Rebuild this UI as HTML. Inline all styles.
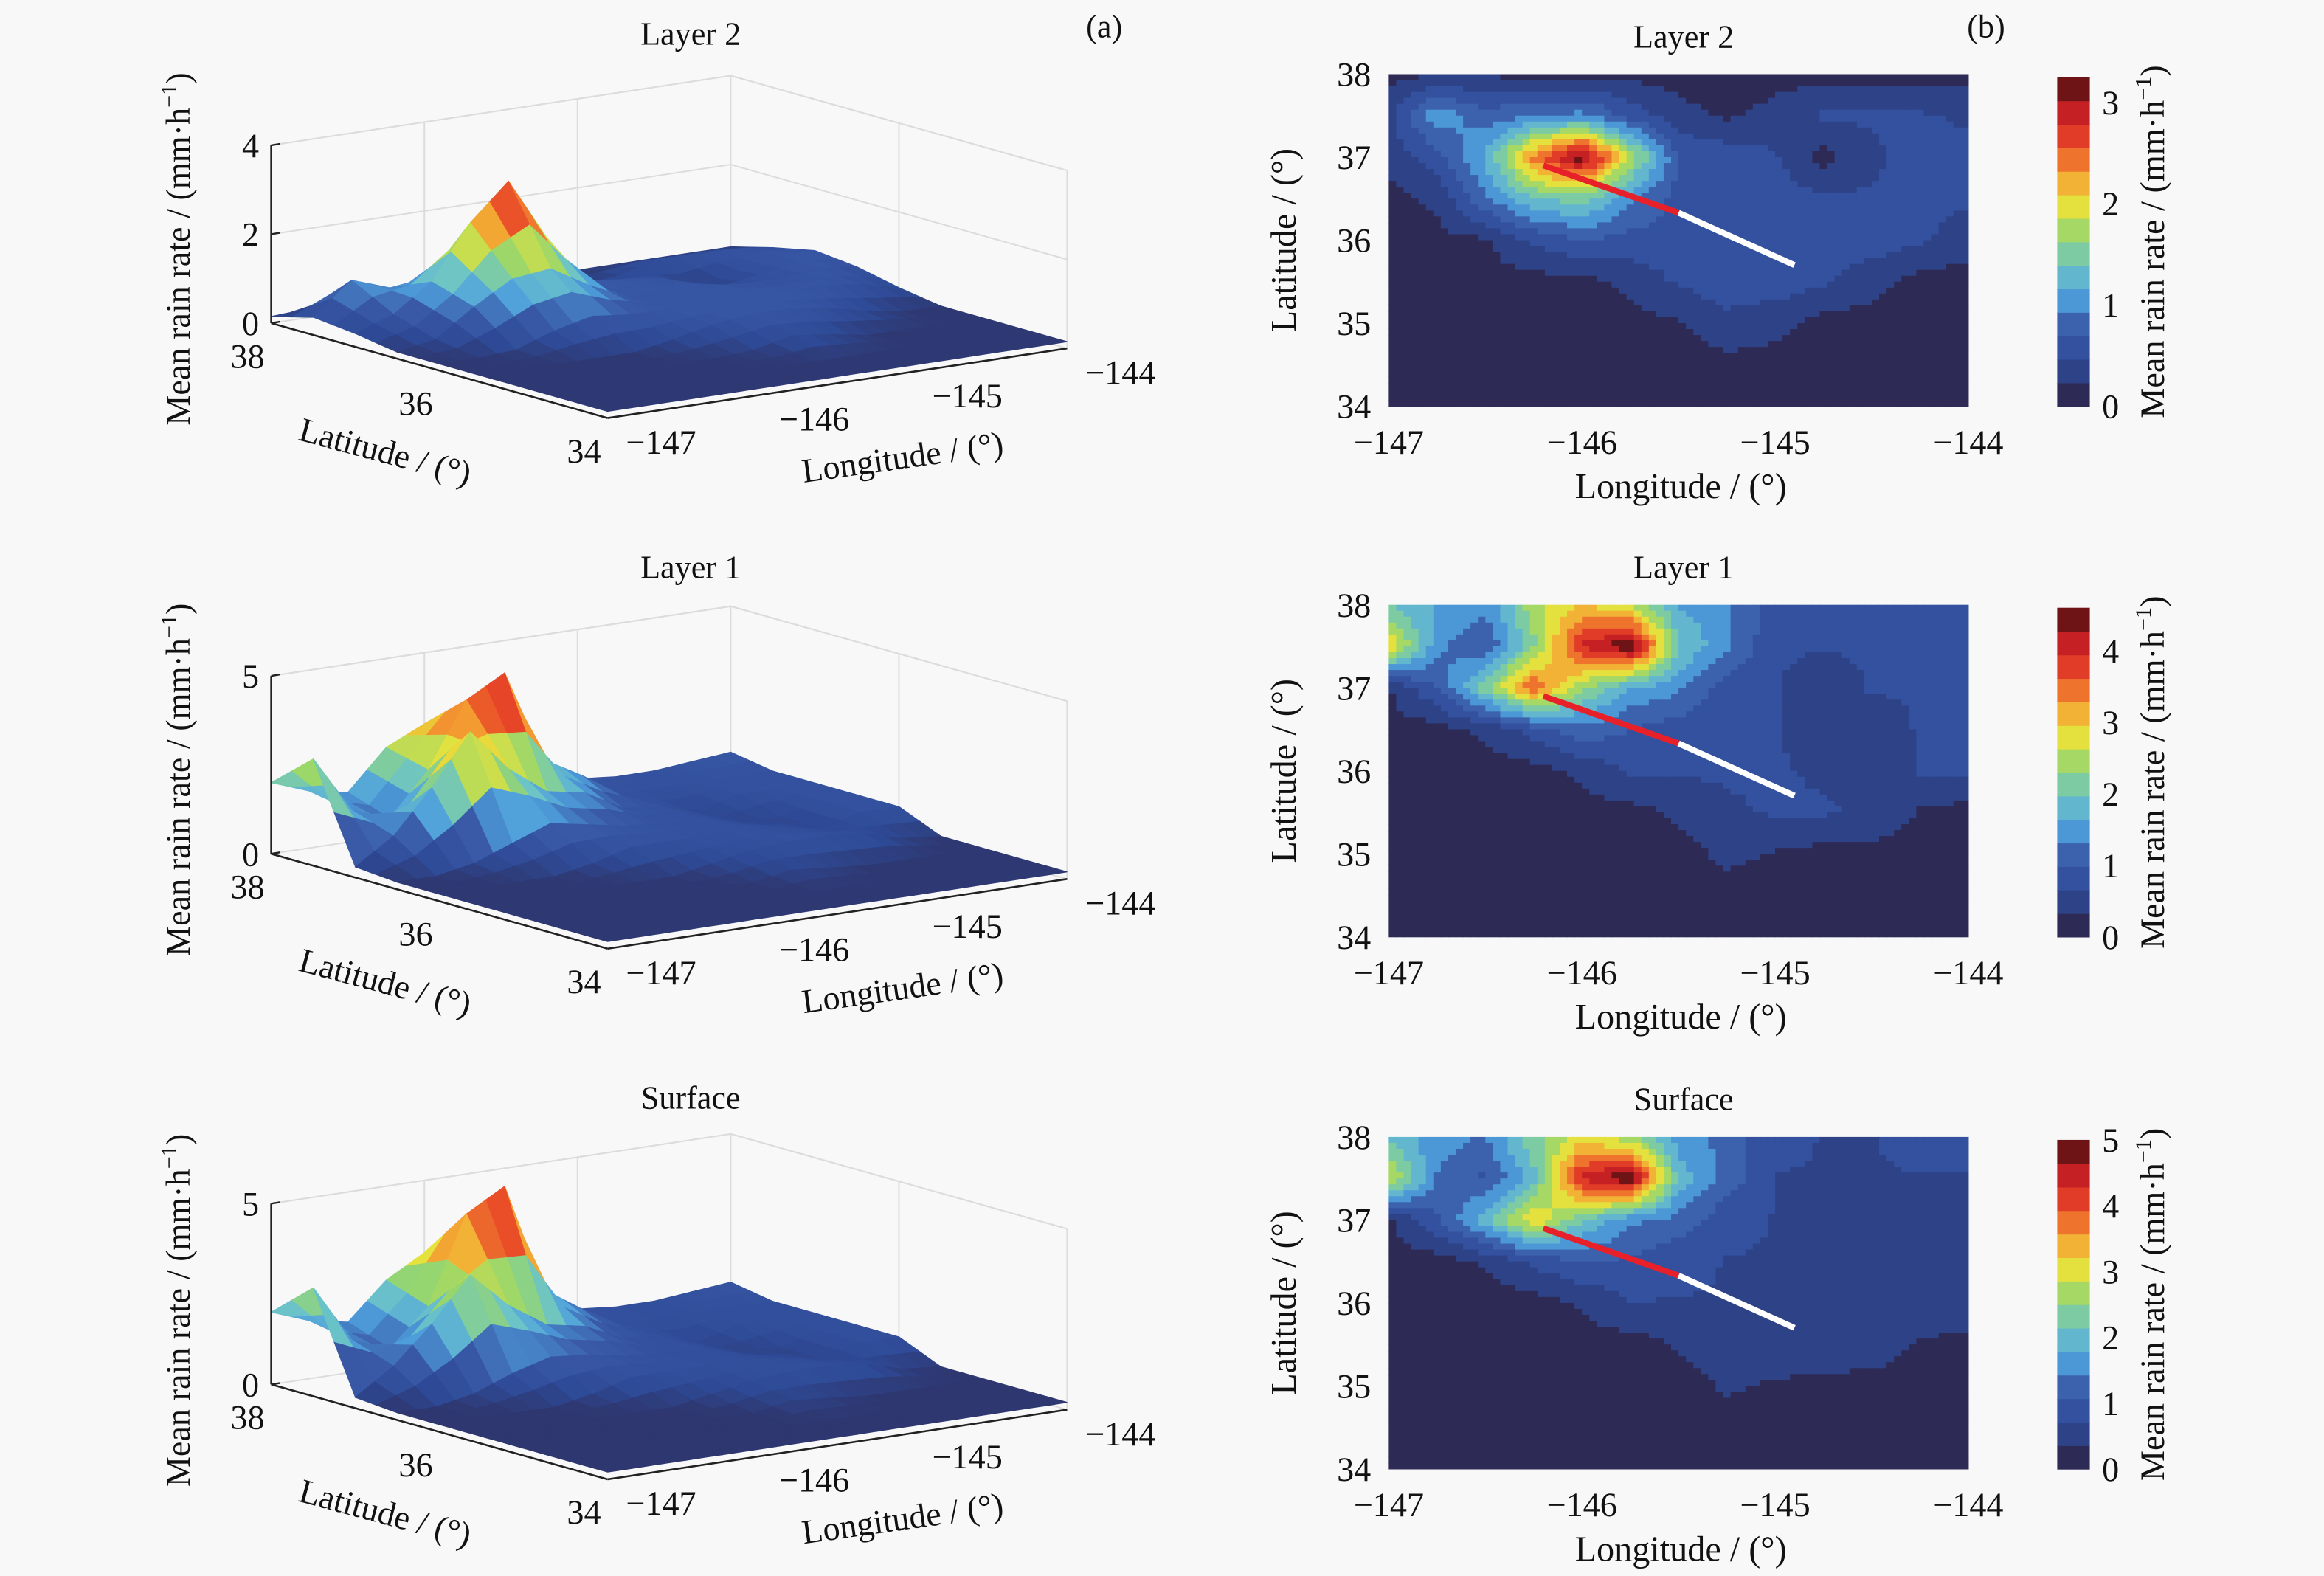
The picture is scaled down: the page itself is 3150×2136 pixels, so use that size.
<!DOCTYPE html>
<html><head><meta charset="utf-8">
<style>
html,body{margin:0;padding:0;background:#f8f8f8;}
svg{display:block;}
text{font-family:"Liberation Serif",serif;fill:#111;}
</style></head>
<body>
<svg id="fig" width="3150" height="2136" viewBox="0 0 1568 1063.2" xmlns="http://www.w3.org/2000/svg">
<rect x="0" y="0" width="1568" height="1064" fill="#f8f8f8"/>
<g id="root"></g>
</svg>
<script>
// ---- data: mean rain rate grids (rows lat 38 -> 34 step 0.5, cols lon -147 -> -144 step 0.25) ----
const lats = [38,37.5,37,36.5,36,35.5,35,34.5,34];
const lons = [-147,-146.75,-146.5,-146.25,-146,-145.75,-145.5,-145.25,-145,-144.75,-144.5,-144.25,-144];
const layer2Values = [
 [0.15,0.2,0.2,0.15,0.15,0.15,0.15,0.15,0.15,0.15,0.15,0.15,0.15],
 [0.4,1.1,0.8,0.9,1.0,0.6,0.3,0.2,0.3,0.5,0.5,0.5,0.4],
 [0.3,0.6,1.2,2.4,3.2,1.8,0.7,0.6,0.5,0.15,0.4,0.6,0.6],
 [0.15,0.3,0.9,1.4,1.5,1.0,0.6,0.6,0.6,0.5,0.5,0.6,0.5],
 [0.15,0.15,0.2,0.5,0.7,0.6,0.6,0.6,0.6,0.6,0.6,0.5,0.3],
 [0.15,0.15,0.15,0.15,0.15,0.3,0.5,0.6,0.6,0.5,0.3,0.15,0.15],
 [0.15,0.15,0.15,0.15,0.15,0.15,0.2,0.4,0.3,0.15,0.15,0.15,0.15],
 [0.15,0.15,0.15,0.15,0.15,0.15,0.15,0.15,0.15,0.15,0.15,0.15,0.15],
 [0.15,0.15,0.15,0.15,0.15,0.15,0.15,0.15,0.15,0.15,0.15,0.15,0.15]];
const layer1Values = [
 [2.0,1.6,1.4,2.5,3.0,2.6,1.6,1.4,0.8,0.7,0.7,0.8,0.9],
 [3.0,1.4,1.0,2.2,4.0,4.6,2.0,1.4,0.7,0.7,0.7,0.7,0.7],
 [0.3,1.0,2.2,3.6,2.4,1.6,1.4,0.8,0.7,0.4,0.7,0.7,0.7],
 [0.2,0.2,0.4,0.8,1.2,1.0,0.8,0.7,0.7,0.4,0.4,0.7,0.7],
 [0.2,0.2,0.2,0.2,0.4,0.7,0.7,0.7,0.7,0.6,0.4,0.7,0.7],
 [0.2,0.2,0.2,0.2,0.2,0.2,0.4,0.6,0.7,0.7,0.6,0.3,0.2],
 [0.2,0.2,0.2,0.2,0.2,0.2,0.2,0.4,0.3,0.2,0.2,0.2,0.2],
 [0.2,0.2,0.2,0.2,0.2,0.2,0.2,0.2,0.2,0.2,0.2,0.2,0.2],
 [0.2,0.2,0.2,0.2,0.2,0.2,0.2,0.2,0.2,0.2,0.2,0.2,0.2]];
const surfaceValues = [
 [2.0,1.6,1.4,2.4,3.0,2.6,1.6,1.3,0.8,0.7,0.7,0.8,0.9],
 [3.0,1.4,1.0,2.0,4.4,5.0,2.0,1.3,0.7,0.7,0.7,0.7,0.7],
 [0.3,1.0,2.0,3.2,2.2,1.5,1.3,0.8,0.7,0.4,0.7,0.7,0.7],
 [0.2,0.2,0.4,0.8,1.1,1.0,0.8,0.7,0.7,0.4,0.4,0.7,0.7],
 [0.2,0.2,0.2,0.2,0.4,0.7,0.7,0.7,0.7,0.6,0.4,0.7,0.7],
 [0.2,0.2,0.2,0.2,0.2,0.2,0.4,0.6,0.7,0.7,0.6,0.3,0.2],
 [0.2,0.2,0.2,0.2,0.2,0.2,0.2,0.4,0.3,0.2,0.2,0.2,0.2],
 [0.2,0.2,0.2,0.2,0.2,0.2,0.2,0.2,0.2,0.2,0.2,0.2,0.2],
 [0.2,0.2,0.2,0.2,0.2,0.2,0.2,0.2,0.2,0.2,0.2,0.2,0.2]];
const panelTitles = ["Layer 2","Layer 1","Surface"];
const colorbarMax = [3.25,4.6,5];
const colorbarTicks2 = [0,1,2,3];
const colorbarTicks1 = [0,1,2,3,4];
const colorbarTicksS = [0,1,2,3,4,5];
const zTicks2 = [0,2,4];
const zTicks1 = [0,5];
const zTicksS = [0,5];
const latTickLabels = [38,37,36,35,34];
const lonTickLabels = [-147,-146,-145,-144];
const lat3dTicks = [38,36,34];
const trackLon = [-146.2,-145.5,-144.9];
const trackLat = [36.9,36.33,35.7];

const NS="http://www.w3.org/2000/svg";
const root=document.getElementById('root');
function mk(tag,attrs,parent){const e=document.createElementNS(NS,tag);for(const k in attrs)e.setAttribute(k,attrs[k]);(parent||root).appendChild(e);return e;}
const stops=[[0,[46,42,86]],[0.1,[46,74,150]],[0.22,[58,90,168]],[0.32,[79,160,220]],[0.42,[108,196,200]],[0.52,[150,214,110]],[0.62,[232,226,60]],[0.72,[244,160,50]],[0.82,[232,70,40]],[0.92,[200,32,36]],[1,[110,20,22]]];
function cmap(t){t=Math.max(0,Math.min(1,t));for(let i=1;i<stops.length;i++){if(t<=stops[i][0]){const a=stops[i-1],b=stops[i];const f=(t-a[0])/(b[0]-a[0]);const c=a[1].map((v,k)=>Math.round(v+(b[1][k]-v)*f));return `rgb(${c[0]},${c[1]},${c[2]})`;}}return 'rgb(110,20,22)';}
function quant(t){const L=14;return Math.min(L-1,Math.floor(t*L))/(L-1);}
function bil(g,r,c){const r0=Math.max(0,Math.min(Math.floor(r),g.length-2)),c0=Math.max(0,Math.min(Math.floor(c),g[0].length-2));const fr=r-r0,fc=c-c0;return g[r0][c0]*(1-fr)*(1-fc)+g[r0][c0+1]*(1-fr)*fc+g[r0+1][c0]*fr*(1-fc)+g[r0+1][c0+1]*fr*fc;}
function txt(x,y,s,opt,name){const t=mk('text',Object.assign({x:x,y:y,'font-size':22,'text-anchor':'middle'},opt||{}));t.textContent=s;return t;}
function unitLabel(x,y,rot,name){const t=mk('text',{x:0,y:0,'font-size':23,'text-anchor':'middle',transform:`translate(${x},${y}) rotate(${rot})`});
 
 t.appendChild(document.createTextNode('Mean rain rate / (mm·h'));const s=mk('tspan',{dy:-9,'font-size':15},t);s.textContent='−1';const s2=mk('tspan',{dy:9},t);s2.textContent=')';}

const grids=[layer2Values,layer1Values,surfaceValues];
const zTickSets=[zTicks2,zTicks1,zTicksS];
const cbTickSets=[colorbarTicks2,colorbarTicks1,colorbarTicksS];
const offs=[0,358,716];
const zScale=[30,24,24.4];
const zTopVal=[4,5,5];

txt(745,25,'(a)',{'font-size':22},'panel-label-a');
txt(1340,25,'(b)',{'font-size':22},'panel-label-b');

for(let p=0;p<3;p++){
 const g=grids[p],oy=offs[p],vmax=colorbarMax[p];
 const grp3=mk('g',{});
 const O=[183,218+oy],LA=[227,64],LO=[310,-47],zs=zScale[p];
 const proj=(lat,lon,z)=>{const a=(38-lat)/4,b=(lon+147)/3;return [O[0]+a*LA[0]+b*LO[0],O[1]+a*LA[1]+b*LO[1]-z*zs];};
 const zt=zTopVal[p];
 const wall=(pts)=>mk('polyline',{points:pts.map(q=>q.join(',')).join(' '),fill:'none',stroke:'#dcdcdc','stroke-width':1},grp3);
 wall([proj(38,-147,zt),proj(38,-144,zt),proj(34,-144,zt)]);
 wall([proj(38,-144,0),proj(38,-144,zt)]);wall([proj(34,-144,0),proj(34,-144,zt)]);
 for(const lo of [-146,-145])wall([proj(38,lo,0),proj(38,lo,zt)]);
 wall([proj(36,-144,0),proj(36,-144,zt)]);
 for(const zv of zTickSets[p]){if(zv>0)wall([proj(38,-147,zv),proj(38,-144,zv),proj(34,-144,zv)]);}
 wall([proj(38,-144,0),proj(34,-144,0)]);wall([proj(38,-147,0),proj(38,-144,0)]);
 const S=2,nr=(lats.length-1)*S,nc=(lons.length-1)*S;
 const hv=(r,c)=>bil(g,r/S,c/S);
 const latAt=r=>38-r/S*0.5, lonAt=c=>-147+c/S*0.25;
 const quads=[];
 for(let i=0;i<nr;i++)for(let j=0;j<nc;j++)quads.push({i,j,d:i*8-j*3.9});
 quads.sort((a,b)=>a.d-b.d);
 for(const q of quads){const i=q.i,j=q.j;
   const z00=hv(i,j),z01=hv(i,j+1),z11=hv(i+1,j+1),z10=hv(i+1,j);
   const pts=[proj(latAt(i),lonAt(j),z00),proj(latAt(i),lonAt(j+1),z01),proj(latAt(i+1),lonAt(j+1),z11),proj(latAt(i+1),lonAt(j),z10)];
   const avg=(z00+z01+z11+z10)/4;
   const c=cmap(avg/vmax);
   const poly=mk('polygon',{points:pts.map(v=>v.map(n=>n.toFixed(1)).join(',')).join(' '),fill:c,stroke:c,'stroke-width':0.6},grp3);
   
   
 }
 const ax=(a,b)=>mk('line',{x1:a[0],y1:a[1],x2:b[0],y2:b[1],stroke:'#222','stroke-width':1.3},grp3);
 ax(proj(38,-147,0),proj(38,-147,zt));ax(proj(38,-147,0),proj(34,-147,0));ax(proj(34,-147,0),proj(34,-144,0));
 for(const zv of zTickSets[p]){const q=proj(38,-147,zv);mk('line',{x1:q[0],y1:q[1],x2:q[0]+6,y2:q[1]-1,stroke:'#222','stroke-width':1.2},grp3);txt(q[0]-14,q[1]+8,String(zv),{'font-size':23},'z-tick-label');}
 for(const la of lat3dTicks){const q=proj(la,-147,0);txt(q[0]-16,q[1]+30,String(la),{'font-size':23},'lat-tick-label');}
 for(const lo of lonTickLabels){const q=proj(34,lo,0);txt(q[0]+36,q[1]+24,String(lo).replace('-','−'),{'font-size':23},'lon-tick-label');}
 txt(0,0,'Latitude / (°)',{'font-size':23,transform:`translate(258,${312+oy}) rotate(15)`},'latitude-axis-title');
 txt(0,0,'Longitude / (°)',{'font-size':23,transform:`translate(610,${316+oy}) rotate(-8)`},'longitude-axis-title');
 unitLabel(128,168+oy,-90,'z-axis-title');
 txt(466,30+oy+(p?2:0),panelTitles[p],{'font-size':22},'left-panel-title');

 const H=[50,408,767][p],X0=937,X1=1328,Y1=H+224;
 const xs=lo=>X0+(lo+147)/3*(X1-X0), ys=la=>H+(38-la)/4*(Y1-H);
 const hm=mk('g',{});
 const NX=78,NY=56,cw=(X1-X0)/NX,ch=(Y1-H)/NY;
 for(let a=0;a<NY;a++)for(let b=0;b<NX;b++){
   const r=(a+0.5)/NY*(lats.length-1),c=(b+0.5)/NX*(lons.length-1);
   const v=bil(g,r,c);
   const cell=mk('rect',{x:(X0+b*cw).toFixed(2),y:(H+a*ch).toFixed(2),width:(cw+0.3).toFixed(2),height:(ch+0.3).toFixed(2),fill:cmap(quant(v/vmax))},hm);
   
   
 }
 const t0=[xs(trackLon[0]),ys(trackLat[0])],t1=[xs(trackLon[1]),ys(trackLat[1])],t2=[xs(trackLon[2]),ys(trackLat[2])];
 const l1=mk('line',{x1:t0[0],y1:t0[1],x2:t1[0],y2:t1[1],stroke:'#e8202a','stroke-width':4});
 const l2=mk('line',{x1:t1[0],y1:t1[1],x2:t2[0],y2:t2[1],stroke:'#ffffff','stroke-width':4});
 for(const la of latTickLabels)txt(X0-12,ys(la)+8,String(la),{'font-size':23,'text-anchor':'end'},'lat-tick-label');
 for(const lo of lonTickLabels)txt(xs(lo),Y1+32,String(lo).replace('-','−'),{'font-size':23},'lon-tick-label');
 txt(1134,Y1+62,'Longitude / (°)',{'font-size':24},'x-axis-title');
 txt(0,0,'Latitude / (°)',{'font-size':24,transform:`translate(874,${(H+Y1)/2}) rotate(-90)`},'y-axis-title');
 txt(1136,H-18,panelTitles[p],{'font-size':22},'right-panel-title');
 const cb=mk('g',{});
 const CB0=1388,CBW=22,CBT=H+2,CBB=Y1;
 const NL=14;
 for(let k=0;k<NL;k++){const y0=CBB-(k+1)/NL*(CBB-CBT);mk('rect',{x:CB0,y:y0.toFixed(2),width:CBW,height:((CBB-CBT)/NL+0.4).toFixed(2),fill:cmap(k/(NL-1))},cb);}
 for(const tv of cbTickSets[p]){const y=CBB-tv/vmax*(CBB-CBT);txt(CB0+CBW+14,y+8,String(tv),{'font-size':23},'colorbar-tick-label');}
 unitLabel(1460,(CBT+CBB)/2,-90,'colorbar-title');
}
</script>
</body></html>
